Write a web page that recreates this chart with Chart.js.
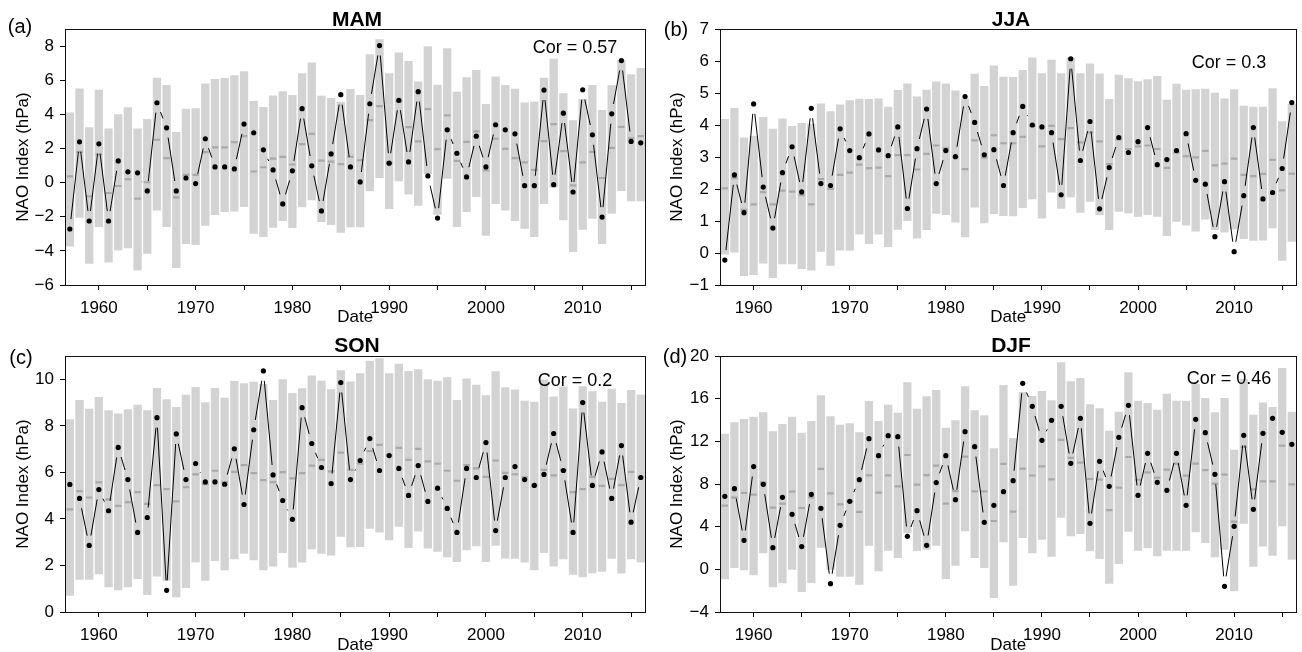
<!DOCTYPE html>
<html><head><meta charset="utf-8">
<script src="https://cdn.jsdelivr.net/npm/chart.js@4.4.0/dist/chart.umd.min.js"></script>
<style>
body{margin:0;background:#fff;width:1302px;height:652px;overflow:hidden;position:relative;font-family:"Liberation Sans",Arial,sans-serif;}
.pane{position:absolute;}
.t{position:absolute;white-space:nowrap;color:#000;transform:translate(-50%,-50%);line-height:1;}
.ttl{font-weight:bold;font-size:21px;}
.lab{font-size:20px;}
.cor{font-size:18px;}
</style></head><body>
<div class="pane" style="left:0;top:0;width:651px;height:326px"><canvas id="cA" width="651" height="326"></canvas></div>
<div class="pane" style="left:651px;top:0;width:651px;height:326px"><canvas id="cB" width="651" height="326"></canvas></div>
<div class="pane" style="left:0;top:326px;width:651px;height:326px"><canvas id="cC" width="651" height="326"></canvas></div>
<div class="pane" style="left:651px;top:326px;width:651px;height:326px"><canvas id="cD" width="651" height="326"></canvas></div>

<div class="t ttl" style="left:357px;top:18px">MAM</div>
<div class="t ttl" style="left:1011px;top:18px">JJA</div>
<div class="t ttl" style="left:357px;top:344px">SON</div>
<div class="t ttl" style="left:1011px;top:344px">DJF</div>
<div class="t lab" style="left:20px;top:26px">(a)</div>
<div class="t lab" style="left:676px;top:29px">(b)</div>
<div class="t lab" style="left:21px;top:357px">(c)</div>
<div class="t lab" style="left:675px;top:356px">(d)</div>
<div class="t cor" style="left:575px;top:47px">Cor = 0.57</div>
<div class="t cor" style="left:1229px;top:62px">Cor = 0.3</div>
<div class="t cor" style="left:575px;top:380px">Cor = 0.2</div>
<div class="t cor" style="left:1229px;top:378px">Cor = 0.46</div>

<script>
// ---------------- DATA ----------------
const years = [1957,1958,1959,1960,1961,1962,1963,1964,1965,1966,
  1967,1968,1969,1970,1971,1972,1973,1974,1975,1976,
  1977,1978,1979,1980,1981,1982,1983,1984,1985,1986,
  1987,1988,1989,1990,1991,1992,1993,1994,1995,1996,
  1997,1998,1999,2000,2001,2002,2003,2004,2005,2006,
  2007,2008,2009,2010,2011,2012,2013,2014,2015,2016];

// MAM
const mamLow = [-3.74,-2.06,-4.76,-2.60,-4.68,-3.98,-3.84,-5.15,-4.17,-1.63,
  -2.60,-5.01,-3.60,-3.66,-2.53,-1.90,-1.72,-1.70,-1.43,-3.00,
  -3.19,-2.64,-2.25,-2.66,-1.45,-1.04,-2.31,-2.49,-2.94,-2.62,
  -2.62,-0.51,0.27,-1.55,0.08,-0.69,-1.35,0.51,-1.88,0.22,
  -2.60,-1.72,-0.84,-3.11,-1.25,-1.63,-2.25,-2.70,-3.19,-1.25,
  -0.29,-2.21,-4.07,-2.76,-2.12,-3.60,-1.82,-0.49,-1.10,-1.10];
const mamHigh = [4.11,5.52,3.25,5.44,3.17,4.01,4.41,3.17,3.72,6.15,
  5.72,2.96,4.33,4.35,5.80,6.07,6.13,6.29,6.52,4.78,
  4.43,5.11,5.35,5.13,6.40,7.03,5.09,4.95,4.74,5.48,
  5.13,7.52,8.40,6.40,7.62,7.13,5.93,7.99,5.74,7.87,
  5.33,6.17,6.60,4.60,6.21,5.72,5.50,4.70,4.74,6.15,
  7.25,5.23,3.66,4.90,5.72,4.25,5.70,7.19,6.35,6.72];
const mamMedian = [0.37,1.80,-0.80,1.66,-0.61,-0.20,0.20,-0.94,0.02,2.51,
  1.43,-0.86,0.45,0.45,1.78,2.06,2.06,2.37,2.72,0.65,
  0.90,1.41,1.51,1.06,2.25,2.86,1.29,1.23,1.08,1.51,
  1.31,3.66,4.48,1.15,4.75,3.25,2.41,4.31,1.96,3.94,
  1.27,2.39,3.00,0.71,2.57,1.98,1.43,1.18,0.74,2.43,
  3.43,1.84,-0.16,1.19,1.80,0.27,2.04,3.27,2.60,2.72];
const mamObs = [-2.72,2.39,-2.25,2.27,-2.25,1.27,0.63,0.57,-0.49,4.68,
  3.21,-0.49,0.27,-0.06,2.57,0.92,0.92,0.80,3.43,2.92,
  1.92,0.74,-1.25,0.69,4.33,0.98,-1.66,1.68,5.15,0.92,
  0.04,4.62,8.03,1.14,4.82,1.21,5.33,0.39,-2.08,3.09,
  1.72,0.33,2.72,0.92,3.39,3.09,2.86,-0.18,-0.18,5.42,
  -0.12,4.07,-0.55,5.44,2.80,-2.02,4.03,7.15,2.41,2.33];

// JJA
const jjaLow = [-0.05,0.00,-0.72,-0.69,-0.33,-0.78,-0.35,-0.35,-0.50,-0.55,
  0.04,-0.40,0.08,0.07,0.58,0.28,0.58,0.19,0.73,1.00,
  0.45,0.72,1.23,1.19,0.95,0.49,1.42,0.93,1.22,1.16,
  1.15,1.41,1.68,1.08,1.89,1.38,1.74,1.26,1.60,1.19,
  0.72,1.29,1.24,1.13,1.19,1.13,0.53,0.98,0.86,0.67,
  1.05,0.72,0.64,0.74,0.44,0.38,0.39,0.77,-0.24,0.35];
const jjaHigh = [4.19,4.53,3.61,3.66,4.25,3.88,4.20,3.97,4.06,4.04,
  4.67,4.43,4.64,4.77,4.82,4.81,4.83,4.57,5.09,5.30,
  4.89,5.10,5.36,5.30,5.08,4.82,5.60,5.22,5.86,5.51,
  5.50,5.72,6.11,5.62,6.04,5.62,6.11,5.62,5.92,5.61,
  4.81,5.57,5.46,5.37,5.43,5.53,4.79,5.29,5.10,5.12,
  5.13,5.01,4.83,5.12,4.60,4.57,4.57,5.15,4.12,4.66];
const jjaMedian = [2.02,2.34,1.35,1.52,1.90,1.52,1.95,1.92,1.81,1.52,
  2.31,2.00,2.44,2.51,2.76,2.65,2.67,2.40,3.06,3.06,
  2.61,3.10,3.36,3.27,3.00,2.62,3.52,2.98,3.68,3.43,
  3.43,3.63,3.97,3.33,3.97,3.56,3.90,3.46,3.77,3.49,
  2.78,3.55,3.25,3.33,3.36,3.25,2.66,3.14,3.03,2.99,
  3.19,2.74,2.79,2.95,2.44,2.40,2.47,2.91,1.96,2.48];
const jjaObs = [-0.22,2.44,1.26,4.66,2.06,0.78,2.51,3.32,1.91,4.52,
  2.17,2.11,3.88,3.20,2.98,3.72,3.22,3.04,3.94,1.39,
  3.26,4.50,2.17,3.20,3.01,4.89,4.08,3.07,3.23,2.11,
  3.76,4.58,4.00,3.94,3.76,1.82,6.07,2.89,4.11,1.38,
  2.67,3.61,3.14,3.48,3.92,2.76,2.92,3.20,3.73,2.27,
  2.15,0.51,2.23,0.04,1.79,3.92,1.69,1.89,2.64,4.70];

// SON
const sonLow = [0.70,1.39,1.39,1.62,1.06,0.93,1.06,1.42,0.73,1.53,
  1.34,0.63,1.03,2.13,1.34,2.19,1.79,2.27,2.50,2.22,
  1.79,1.95,2.53,1.90,2.13,2.70,2.50,2.43,3.23,2.78,
  2.79,3.58,3.42,3.08,3.66,2.75,3.46,2.73,2.59,2.35,
  2.15,2.65,2.82,2.15,2.85,2.30,2.29,2.13,1.79,2.53,
  1.96,2.27,1.60,1.49,1.67,1.73,2.29,1.65,2.27,2.13];
const sonHigh = [8.28,9.11,8.73,9.24,8.67,8.53,8.71,8.90,8.67,9.63,
  9.14,8.81,9.34,9.67,9.01,9.63,9.21,9.93,9.83,9.89,
  9.80,9.11,10.00,9.41,9.61,10.16,9.94,9.57,10.39,9.90,
  10.26,10.80,10.90,10.26,10.67,10.36,10.43,10.00,9.94,10.09,
  9.11,10.03,9.76,9.31,10.34,9.66,9.56,9.08,9.03,9.99,
  9.26,9.69,8.74,9.70,9.49,9.03,9.59,8.98,9.54,9.33];
const sonMedian = [4.41,5.19,4.92,5.57,4.84,4.56,4.72,5.15,4.65,5.45,
  5.28,4.75,5.36,5.91,5.49,6.07,5.58,6.02,6.31,5.97,
  5.67,5.58,6.01,5.74,5.97,6.29,6.54,6.04,6.85,6.11,
  6.37,6.91,7.18,6.72,7.05,6.54,7.01,6.47,6.37,6.07,
  5.64,6.31,6.17,5.81,6.51,5.98,5.92,5.79,5.44,6.11,
  5.87,6.11,5.15,5.28,5.81,5.42,5.72,5.45,6.02,5.78];
const sonObs = [5.48,4.88,2.86,5.26,4.35,7.07,5.69,3.42,4.06,8.35,
  0.93,7.65,5.69,6.38,5.59,5.59,5.49,7.01,4.62,7.83,
  10.36,5.89,4.79,3.98,8.78,7.24,6.21,5.52,9.86,5.69,
  6.51,7.45,6.08,6.72,6.17,5.01,6.29,4.75,5.32,4.45,
  3.42,6.17,5.78,7.28,3.50,5.78,6.25,5.69,5.44,5.91,
  7.67,6.08,3.42,9.00,5.44,6.88,4.88,7.15,3.86,5.78];

// DJF
const djfLow = [-0.94,0.13,-0.09,-0.56,1.50,-1.69,-1.31,-0.03,-2.13,-1.28,
  2.03,-0.03,-0.69,-0.69,-1.44,2.22,-0.19,1.75,1.06,3.38,
  1.72,1.84,2.22,-0.91,0.34,3.56,1.06,0.13,-2.69,2.53,
  -1.53,2.94,1.50,2.78,1.19,4.84,3.09,3.31,1.69,0.97,
  -1.34,0.50,3.53,1.75,1.97,1.22,1.75,1.75,1.75,3.47,
  2.47,1.13,1.84,-2.06,4.28,0.25,2.13,1.28,4.03,0.91];
const djfHigh = [12.72,13.78,14.09,14.31,14.72,12.94,13.63,14.31,12.81,13.91,
  16.31,14.34,13.56,13.69,12.84,15.78,13.91,15.44,14.69,17.53,
  15.06,16.22,16.81,13.28,13.97,17.16,14.91,14.44,11.34,17.28,
  12.31,16.63,16.25,16.72,15.84,19.41,17.63,17.94,15.47,15.09,
  13.00,14.78,18.47,15.81,15.59,14.97,16.47,15.81,15.81,17.38,
  16.06,14.72,16.06,11.22,17.84,14.50,15.63,15.22,18.88,14.78];
const djfMedian = [5.97,6.72,7.16,7.00,8.16,5.78,6.16,7.28,5.75,6.75,
  9.41,7.13,6.09,6.38,5.38,8.81,7.19,8.81,7.78,10.72,
  7.94,8.84,9.72,6.16,7.34,10.56,7.31,7.31,4.53,9.88,
  5.41,9.44,8.78,9.66,8.44,12.13,10.44,10.00,8.47,8.41,
  5.56,7.66,10.53,8.40,9.09,8.60,9.34,9.91,8.78,9.91,
  9.31,8.03,8.88,4.47,11.47,7.50,8.25,8.25,11.59,7.97];
const djfObs = [6.84,7.56,2.72,9.63,7.97,2.03,6.75,5.16,2.13,7.03,
  5.72,-1.34,4.13,6.38,8.41,12.25,10.66,12.53,12.44,3.09,
  5.50,2.25,8.13,10.66,6.53,12.91,11.50,4.41,6.00,7.28,
  8.31,17.44,15.28,12.09,13.97,15.28,9.94,14.16,4.31,10.13,
  7.78,12.38,15.38,6.94,10.88,8.16,7.41,10.88,6.00,14.06,
  12.81,8.91,-1.59,4.03,12.56,5.63,12.75,14.16,12.84,11.72];

// Axis ticks
const xTicks = [1960,1965,1970,1975,1980,1985,1990,1995,2000,2005,2010,2015];
const xTickLabels = ['1960','','1970','','1980','','1990','','2000','','2010',''];
const yTicksMAM = [-6,-4,-2,0,2,4,6,8];
const yTicksJJA = [-1,0,1,2,3,4,5,6,7];
const yTicksSON = [0,2,4,6,8,10];
const yTicksDJF = [-4,0,4,8,12,16,20];
const xRange = [1956.5, 2016.5];
const yRangeMAM = [-6, 9];
const yRangeJJA = [-1, 7];
const yRangeSON = [0, 11];
const yRangeDJF = [-4, 20];

// ---------------- DRAWING ----------------
const FONT = "'Liberation Sans', Arial, sans-serif";

const gapLinePlugin = {
  id: 'gapLine',
  afterDatasetsDraw(chart) {
    const meta = chart.getDatasetMeta(0);
    const pts = meta.data;
    const gap = 10;
    const ctx = chart.ctx;
    ctx.save();
    ctx.strokeStyle = '#000';
    ctx.lineWidth = 1;
    ctx.beginPath();
    for (let i = 0; i < pts.length - 1; i++) {
      const a = pts[i], b = pts[i + 1];
      const dx = b.x - a.x, dy = b.y - a.y;
      const d = Math.hypot(dx, dy);
      if (d <= 2 * gap) continue;
      const ux = dx / d, uy = dy / d;
      ctx.moveTo(a.x + ux * gap, a.y + uy * gap);
      ctx.lineTo(b.x - ux * gap, b.y - uy * gap);
    }
    ctx.stroke();
    ctx.restore();
  }
};
const boxPlugin = {
  id: 'boxFrame',
  afterDraw(chart) {
    const {left, right, top, bottom} = chart.chartArea;
    const ctx = chart.ctx;
    ctx.save();
    ctx.strokeStyle = '#111';
    ctx.lineWidth = 1;
    ctx.strokeRect(Math.round(left) + 0.5, Math.round(top) + 0.5,
                   Math.round(right) - Math.round(left) - 1, Math.round(bottom) - Math.round(top));
    ctx.restore();
  }
};

function fmtY(v) { return v < 0 ? '\u2212' + Math.abs(v) : String(v); }

function makePanel(id, low, high, med, obs, yTicks, yRange, lay) {
  const rangeData = years.map((yr, i) => ({x: yr, y: [low[i], high[i]]}));
  const medData = years.map((yr, i) => ({x: yr, y: med[i]}));
  const obsData = years.map((yr, i) => ({x: yr, y: obs[i]}));
  new Chart(document.getElementById(id), {
    type: 'bar',
    data: {
      datasets: [
        {type: 'line', data: obsData, showLine: false, pointRadius: 2.6, pointBackgroundColor: '#000',
         pointBorderWidth: 0, pointHoverRadius: 2.6, order: 0},
        {type: 'line', data: medData, showLine: false, pointStyle: 'line', pointRadius: 3.2,
         pointBorderWidth: 2.2, pointBorderColor: '#a9a9a9', pointHoverRadius: 3.2, order: 1},
        {type: 'bar', data: rangeData, backgroundColor: '#d3d3d3', borderWidth: 0,
         barPercentage: 0.86, categoryPercentage: 1, order: 2}
      ]
    },
    options: {
      responsive: false, animation: false, events: [], devicePixelRatio: 1,
      layout: {padding: {left: 0, right: lay.right, top: lay.top, bottom: 0}},
      plugins: {legend: {display: false}, tooltip: {enabled: false}},
      scales: {
        x: {
          type: 'linear', min: xRange[0], max: xRange[1], offset: false,
          grid: {display: true, offset: false, drawOnChartArea: false, drawTicks: true, tickLength: 5, tickColor: '#000', tickWidth: 1},
          border: {display: false},
          afterBuildTicks: s => { s.ticks = xTicks.map(v => ({value: v})); },
          afterFit: s => { s.height = lay.xh; },
          ticks: {autoSkip: false, maxRotation: 0, padding: 8, color: '#000', font: {family: FONT, size: 17},
                  callback: (v) => { const k = xTicks.indexOf(v); return k >= 0 ? xTickLabels[k] : ''; }},
          title: {display: true, text: 'Date', color: '#000', font: {family: FONT, size: 17, lineHeight: 1},
                  padding: {top: 0, bottom: lay.tb}}
        },
        y: {
          type: 'linear', min: yRange[0], max: yRange[1],
          grid: {display: true, drawOnChartArea: false, drawTicks: true, tickLength: 5, tickColor: '#000', tickWidth: 1},
          border: {display: false},
          afterBuildTicks: s => { s.ticks = yTicks.map(v => ({value: v})); },
          afterFit: s => { s.width = lay.yw; },
          ticks: {autoSkip: false, padding: 6, color: '#000', font: {family: FONT, size: 17}, callback: fmtY},
          title: {display: true, text: 'NAO Index (hPa)', color: '#000', font: {family: FONT, size: 17, lineHeight: 1},
                  padding: {top: lay.yt, bottom: 0}}
        }
      }
    },
    plugins: [gapLinePlugin, boxPlugin]
  });
}

makePanel('cA', mamLow, mamHigh, mamMedian, mamObs, yTicksMAM, yRangeMAM, {right: 3, top: 29, xh: 41, yw: 65, tb: 0, yt: 15});
makePanel('cB', jjaLow, jjaHigh, jjaMedian, jjaObs, yTicksJJA, yRangeJJA, {right: 0, top: 29, xh: 41, yw: 69, tb: 0, yt: 18});
makePanel('cC', sonLow, sonHigh, sonMedian, sonObs, yTicksSON, yRangeSON, {right: 3, top: 30, xh: 40, yw: 65, tb: -1.5, yt: 15});
makePanel('cD', djfLow, djfHigh, djfMedian, djfObs, yTicksDJF, yRangeDJF, {right: 0, top: 30, xh: 40, yw: 69, tb: -1.5, yt: 18});
</script>
</body></html>
